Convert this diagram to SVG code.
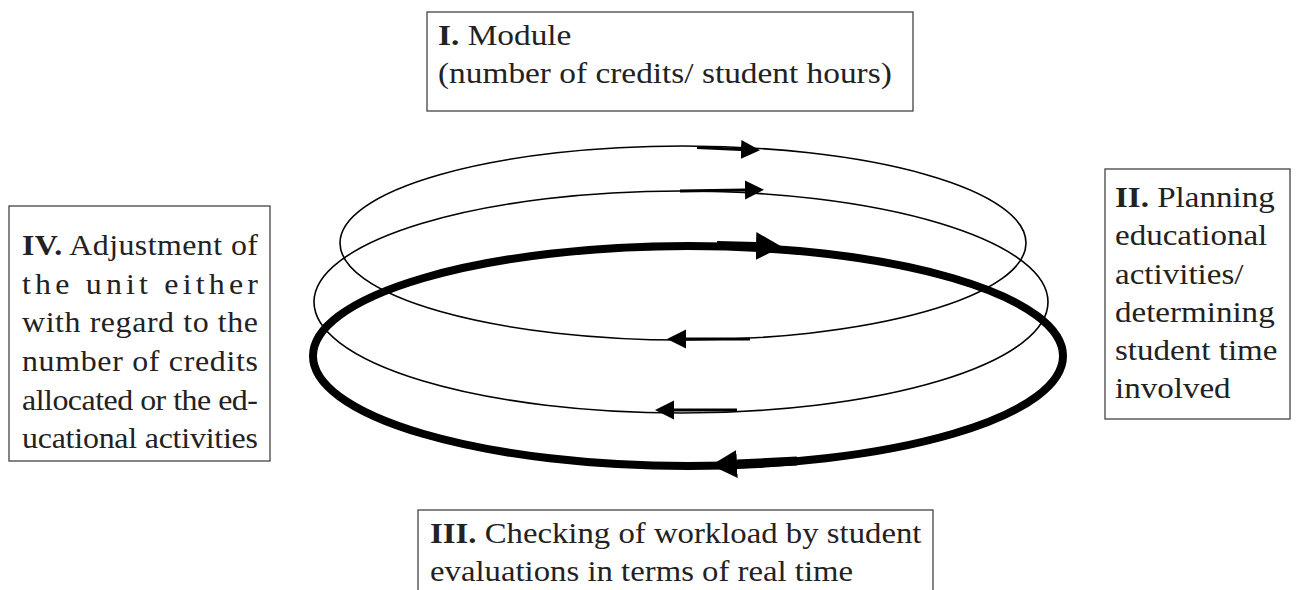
<svg xmlns="http://www.w3.org/2000/svg" width="1301" height="590" viewBox="0 0 1301 590">
<style>
.box{fill:#fff;stroke:#444;stroke-width:1.3}
.t{font-family:"Liberation Serif","Times New Roman",serif;font-size:29px;fill:#222}
.b{font-weight:bold}
.ring{fill:none;stroke:#000}
.thin{stroke-width:1.6}
.thick{stroke-width:8}
.arr{fill:none;stroke:#000}
</style>
<defs>
<marker id="ahThin" markerUnits="userSpaceOnUse" markerWidth="20" markerHeight="20" refX="0" refY="10" orient="auto">
<path d="M0,0.5 L19,10 L0,19.5 z" fill="#000"/>
</marker>
<marker id="ahThick" markerUnits="userSpaceOnUse" markerWidth="28" markerHeight="30" refX="0" refY="15" orient="auto">
<path d="M0,1 L26,15 L0,29 z" fill="#000"/>
</marker>
</defs>

<g id="connectors">
<ellipse class="ring thin" cx="683" cy="243" rx="343" ry="97"/>
<ellipse class="ring thin" cx="681" cy="302" rx="367" ry="111"/>
<ellipse class="ring thick" cx="688" cy="356" rx="375" ry="110"/>
<path class="arr" stroke-width="3" d="M697,147.5 L741,149.5" marker-end="url(#ahThin)"/>
<path class="arr" stroke-width="3" d="M680,191 L745,190" marker-end="url(#ahThin)"/>
<path class="arr" stroke-width="8" d="M717,245 L756,246" marker-end="url(#ahThick)"/>
<path class="arr" stroke-width="3" d="M750,339 L686,339" marker-end="url(#ahThin)"/>
<path class="arr" stroke-width="3" d="M737,410 L674,410" marker-end="url(#ahThin)"/>
<path class="arr" stroke-width="9" d="M797,461 L737,464" marker-end="url(#ahThick)"/>
</g>

<g id="node-I">
<rect class="box" x="427" y="12" width="486" height="99"/>
<text class="t" transform="translate(438 45) scale(1.15 1)"><tspan class="b">I.</tspan> Module</text>
<text class="t" transform="translate(438 83) scale(1.15 1)">(number of credits/ student hours)</text>
</g>

<g id="node-II">
<rect class="box" x="1105" y="169" width="185" height="250"/>
<text class="t" transform="translate(1115 207) scale(1.14 1)"><tspan class="b">II.</tspan> Planning</text>
<text class="t" transform="translate(1115 245) scale(1.14 1)">educational</text>
<text class="t" transform="translate(1115 284) scale(1.14 1)">activities/</text>
<text class="t" transform="translate(1115 322) scale(1.14 1)">determining</text>
<text class="t" transform="translate(1115 360) scale(1.14 1)">student time</text>
<text class="t" transform="translate(1115 398) scale(1.14 1)">involved</text>
</g>

<g id="node-III">
<rect class="box" x="418" y="510" width="515" height="100"/>
<text class="t" transform="translate(430 543) scale(1.13 1)"><tspan class="b">III.</tspan> Checking of workload by student</text>
<text class="t" transform="translate(430 581) scale(1.13 1)">evaluations in terms of real time</text>
</g>

<g id="node-IV">
<rect class="box" x="9" y="206" width="261" height="255"/>
<text class="t" transform="translate(22 255) scale(1.1 1)" textLength="214.5" lengthAdjust="spacing"><tspan class="b">IV.</tspan> Adjustment of</text>
<text class="t" transform="translate(22 294) scale(1.1 1)" textLength="214.5" lengthAdjust="spacing">the unit either</text>
<text class="t" transform="translate(22 332) scale(1.1 1)" textLength="214.5" lengthAdjust="spacing">with regard to the</text>
<text class="t" transform="translate(22 371) scale(1.1 1)" textLength="214.5" lengthAdjust="spacing">number of credits</text>
<text class="t" transform="translate(22 410) scale(1.1 1)" textLength="214.5" lengthAdjust="spacing">allocated or the ed-</text>
<text class="t" transform="translate(22 448) scale(1.1 1)" textLength="214.5" lengthAdjust="spacing">ucational activities</text>
</g>
</svg>
